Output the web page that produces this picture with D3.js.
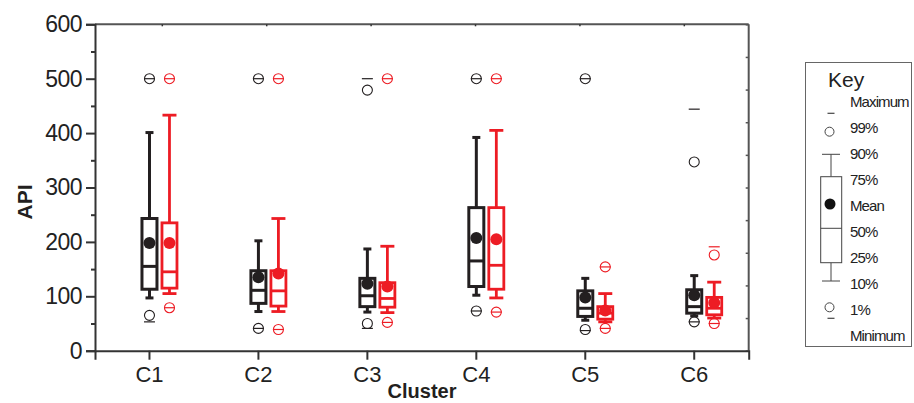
<!DOCTYPE html>
<html>
<head>
<meta charset="utf-8">
<script src="https://d3js.org/d3.v7.min.js"></script>
<style>
  body { margin: 0; background: #fff; }
  svg { display: block; font-family: "Liberation Sans", Arial, sans-serif; }
</style>
</head>
<body>
<div id="chart"></div>
<script>
// Categories on the x axis
const categories = ["C1", "C2", "C3", "C4", "C5", "C6"];

// Black series statistics (one value per cluster)
const blackMin    = [53, 41, 41, 73, 37, 53];
const blackP1     = [65, 41, 50, 73, 39, 53];
const blackP10    = [97, 72, 71, 102, 56, 64];
const blackP25    = [113, 87, 81, 118, 63, 69];
const blackMedian = [155, 111, 101, 165, 78, 81];
const blackMean   = [198, 135, 123, 207, 98, 102];
const blackP75    = [243, 147, 133, 263, 110, 112];
const blackP90    = [401, 202, 187, 392, 133, 138];
const blackP99    = [500, 500, 479, 500, 500, 347];
const blackMax    = [500, 500, 500, 500, 500, 444];

// Red series statistics
const redMin    = [79, 39, 52, 71, 41, 50];
const redP1     = [79, 39, 52, 71, 41, 50];
const redP10    = [105, 72, 70, 97, 53, 60];
const redP25    = [115, 82, 80, 113, 58, 66];
const redMedian = [145, 110, 96, 157, 69, 78];
const redMean   = [198, 142, 118, 205, 74, 88];
const redP75    = [235, 147, 125, 263, 81, 98];
const redP90    = [433, 243, 192, 405, 105, 126];
const redP99    = [500, 500, 500, 500, 154, 176];
const redMax    = [500, 500, 500, 500, 154, 191];

// y ticks
const yMajorTicks = [0, 100, 200, 300, 400, 500, 600];
const yMinorTicks = [50, 150, 250, 350, 450, 550];

// Legend labels
const keyLabels = ["Maximum", "99%", "90%", "75%", "Mean", "50%", "25%", "10%", "1%", "Minimum"];

const width = 914, height = 403;
const plot = { left: 95, right: 748.7, top: 24.3, bottom: 350.7 };

const svg = d3.select("#chart").append("svg")
    .attr("width", width)
    .attr("height", height);

const x = d3.scaleBand()
    .domain(categories)
    .range([plot.left, plot.right]);

const y = d3.scaleLinear()
    .domain([0, 600])
    .range([plot.bottom, plot.top]);

const axisColor = "#333";

// Build per-series rows from the arrays
function rows(min, p1, p10, p25, med, mean, p75, p90, p99, max) {
    return categories.map((c, i) => ({
        cat: c, min: min[i], p1: p1[i], p10: p10[i], p25: p25[i], med: med[i],
        mean: mean[i], p75: p75[i], p90: p90[i], p99: p99[i], max: max[i]
    }));
}

const series = [
    { color: "#231f20", offset: 0, capW: 8, stroke: 3,
      data: rows(blackMin, blackP1, blackP10, blackP25, blackMedian, blackMean, blackP75, blackP90, blackP99, blackMax) },
    { color: "#ed1c24", offset: 20, capW: 14, stroke: 2.8,
      data: rows(redMin, redP1, redP10, redP25, redMedian, redMean, redP75, redP90, redP99, redMax) }
];

// Frame (top and right)
svg.append("line")
    .attr("x1", plot.left).attr("x2", plot.right)
    .attr("y1", plot.top).attr("y2", plot.top)
    .attr("stroke", "#555").attr("stroke-width", 2);
svg.append("line")
    .attr("x1", plot.right).attr("x2", plot.right)
    .attr("y1", plot.top).attr("y2", plot.bottom)
    .attr("stroke", "#555").attr("stroke-width", 2);

// small inner ticks on the right side
const yRight = d3.scaleLinear().domain([0, 10]).range([plot.bottom, plot.top]);
svg.append("g")
    .attr("transform", `translate(${plot.right},0)`)
    .call(d3.axisRight(yRight).ticks(10).tickSize(-3).tickFormat(""))
    .call(g => g.select(".domain").remove())
    .selectAll("line").attr("stroke", "#555").attr("stroke-width", 1.5);

// small inner ticks on the top side
const xTop = d3.scaleLinear().domain([0, (plot.right - plot.left) / 104.4]).range([plot.left, plot.right]);
svg.append("g")
    .attr("transform", `translate(0,${plot.top})`)
    .call(d3.axisTop(xTop).tickValues(d3.range(0.64, 6, 1)).tickSize(-2).tickFormat(""))
    .call(g => g.select(".domain").remove())
    .selectAll("line").attr("stroke", "#333").attr("stroke-width", 1.5);

// Left axis
const yAxis = svg.append("g")
    .attr("transform", `translate(${plot.left},0)`)
    .call(d3.axisLeft(y).tickValues(yMajorTicks).tickSize(9).tickPadding(4));
yAxis.select(".domain").attr("stroke", axisColor).attr("stroke-width", 2);
yAxis.selectAll(".tick line").attr("stroke", axisColor).attr("stroke-width", 2);
yAxis.selectAll(".tick text")
    .attr("fill", "#222")
    .style("font-size", "23px")
    .style("font-family", "'Liberation Sans', Arial, sans-serif")
    .attr("letter-spacing", "-0.5");

svg.append("g")
    .attr("transform", `translate(${plot.left},0)`)
    .call(d3.axisLeft(y).tickValues(yMinorTicks).tickSize(4).tickFormat(""))
    .call(g => g.select(".domain").remove())
    .selectAll("line").attr("stroke", axisColor).attr("stroke-width", 2);

// Bottom axis
const xAxis = svg.append("g")
    .attr("transform", `translate(0,${plot.bottom})`)
    .call(d3.axisBottom(x).tickSize(9).tickPadding(7));
xAxis.select(".domain").attr("stroke", axisColor).attr("stroke-width", 2);
xAxis.selectAll(".tick line").attr("stroke", axisColor).attr("stroke-width", 2);
xAxis.selectAll(".tick text")
    .attr("fill", "#222")
    .style("font-size", "22px")
    .style("font-family", "'Liberation Sans', Arial, sans-serif");

// Axis titles
svg.append("text")
    .attr("x", 422).attr("y", 398)
    .attr("text-anchor", "middle")
    .style("font-size", "20px").style("font-weight", "bold")
    .attr("fill", "#231f20")
    .text("Cluster");

svg.append("text")
    .attr("transform", "translate(32,202) rotate(-90)")
    .attr("text-anchor", "middle")
    .style("font-size", "21px").style("font-weight", "bold")
    .attr("fill", "#231f20")
    .text("API");

// Boxes
const boxW = 15;
series.forEach(s => {
    const g = svg.append("g");
    const cx = d => x(d.cat) + x.bandwidth() / 2 + s.offset;

    const grp = g.selectAll("g.box").data(s.data).join("g").attr("class", "box");

    // whisker line
    grp.append("line")
        .attr("x1", cx).attr("x2", cx)
        .attr("y1", d => y(d.p10)).attr("y2", d => y(d.p90))
        .attr("stroke", s.color).attr("stroke-width", s.stroke);

    // caps
    ["p10", "p90"].forEach(k => {
        grp.append("line")
            .attr("x1", d => cx(d) - s.capW / 2).attr("x2", d => cx(d) + s.capW / 2)
            .attr("y1", d => y(d[k])).attr("y2", d => y(d[k]))
            .attr("stroke", s.color).attr("stroke-width", s.stroke);
    });

    // box
    grp.append("rect")
        .attr("x", d => cx(d) - boxW / 2)
        .attr("width", boxW)
        .attr("y", d => y(d.p75))
        .attr("height", d => y(d.p25) - y(d.p75))
        .attr("fill", "#fff")
        .attr("stroke", s.color).attr("stroke-width", s.stroke);

    // median
    grp.append("line")
        .attr("x1", d => cx(d) - boxW / 2).attr("x2", d => cx(d) + boxW / 2)
        .attr("y1", d => y(d.med)).attr("y2", d => y(d.med))
        .attr("stroke", s.color).attr("stroke-width", s.stroke);

    // mean
    grp.append("circle")
        .attr("cx", cx).attr("cy", d => y(d.mean))
        .attr("r", 6)
        .attr("fill", s.color);

    // 1% and 99% circles
    ["p1", "p99"].forEach(k => {
        grp.append("circle")
            .attr("cx", cx).attr("cy", d => y(d[k]))
            .attr("r", 5)
            .attr("fill", "none")
            .attr("stroke", s.color).attr("stroke-width", 1.1);
    });

    // min and max dashes
    ["min", "max"].forEach(k => {
        grp.append("line")
            .attr("x1", d => cx(d) - 5.5).attr("x2", d => cx(d) + 5.5)
            .attr("y1", d => y(d[k])).attr("y2", d => y(d[k]))
            .attr("stroke", s.color).attr("stroke-width", 1.2);
    });
});

// Legend
const key = svg.append("g");
const kc = "#444";
key.append("rect")
    .attr("x", 805.5).attr("y", 62.5)
    .attr("width", 106).attr("height", 284)
    .attr("fill", "none").attr("stroke", "#666").attr("stroke-width", 1);

key.append("text")
    .attr("x", 828).attr("y", 87)
    .style("font-size", "21px")
    .attr("fill", "#222")
    .text("Key");

key.selectAll("text.lbl").data(keyLabels).join("text")
    .attr("class", "lbl")
    .attr("x", 850)
    .attr("y", (d, i) => 101.5 + i * 26 + 5.5)
    .style("font-size", "15px")
    .attr("letter-spacing", "-0.9")
    .attr("fill", "#222")
    .text(d => d);

const kx = 831;
// max / min dashes
[113.3, 318.3].forEach(yy => {
    key.append("line").attr("x1", kx - 3.5).attr("x2", kx + 3.5)
        .attr("y1", yy).attr("y2", yy).attr("stroke", kc).attr("stroke-width", 1.2);
});
// 99% / 1% circles
[131.7, 307.3].forEach(yy => {
    key.append("circle").attr("cx", kx - 1.5).attr("cy", yy).attr("r", 4.5)
        .attr("fill", "none").attr("stroke", kc).attr("stroke-width", 1);
});
// whiskers
key.append("line").attr("x1", kx).attr("x2", kx).attr("y1", 154.3).attr("y2", 176.7)
    .attr("stroke", kc).attr("stroke-width", 1);
key.append("line").attr("x1", kx).attr("x2", kx).attr("y1", 262.7).attr("y2", 281)
    .attr("stroke", kc).attr("stroke-width", 1);
[154.3, 281].forEach(yy => {
    key.append("line").attr("x1", kx - 9).attr("x2", kx + 9)
        .attr("y1", yy).attr("y2", yy).attr("stroke", kc).attr("stroke-width", 1);
});
// box
key.append("rect").attr("x", 820.7).attr("y", 176.7).attr("width", 21).attr("height", 86)
    .attr("fill", "#fff").attr("stroke", kc).attr("stroke-width", 1);
key.append("line").attr("x1", 820.7).attr("x2", 841.7).attr("y1", 228.3).attr("y2", 228.3)
    .attr("stroke", kc).attr("stroke-width", 1);
key.append("circle").attr("cx", kx - 1).attr("cy", 204).attr("r", 5.5).attr("fill", "#111");
</script>
</body>
</html>
